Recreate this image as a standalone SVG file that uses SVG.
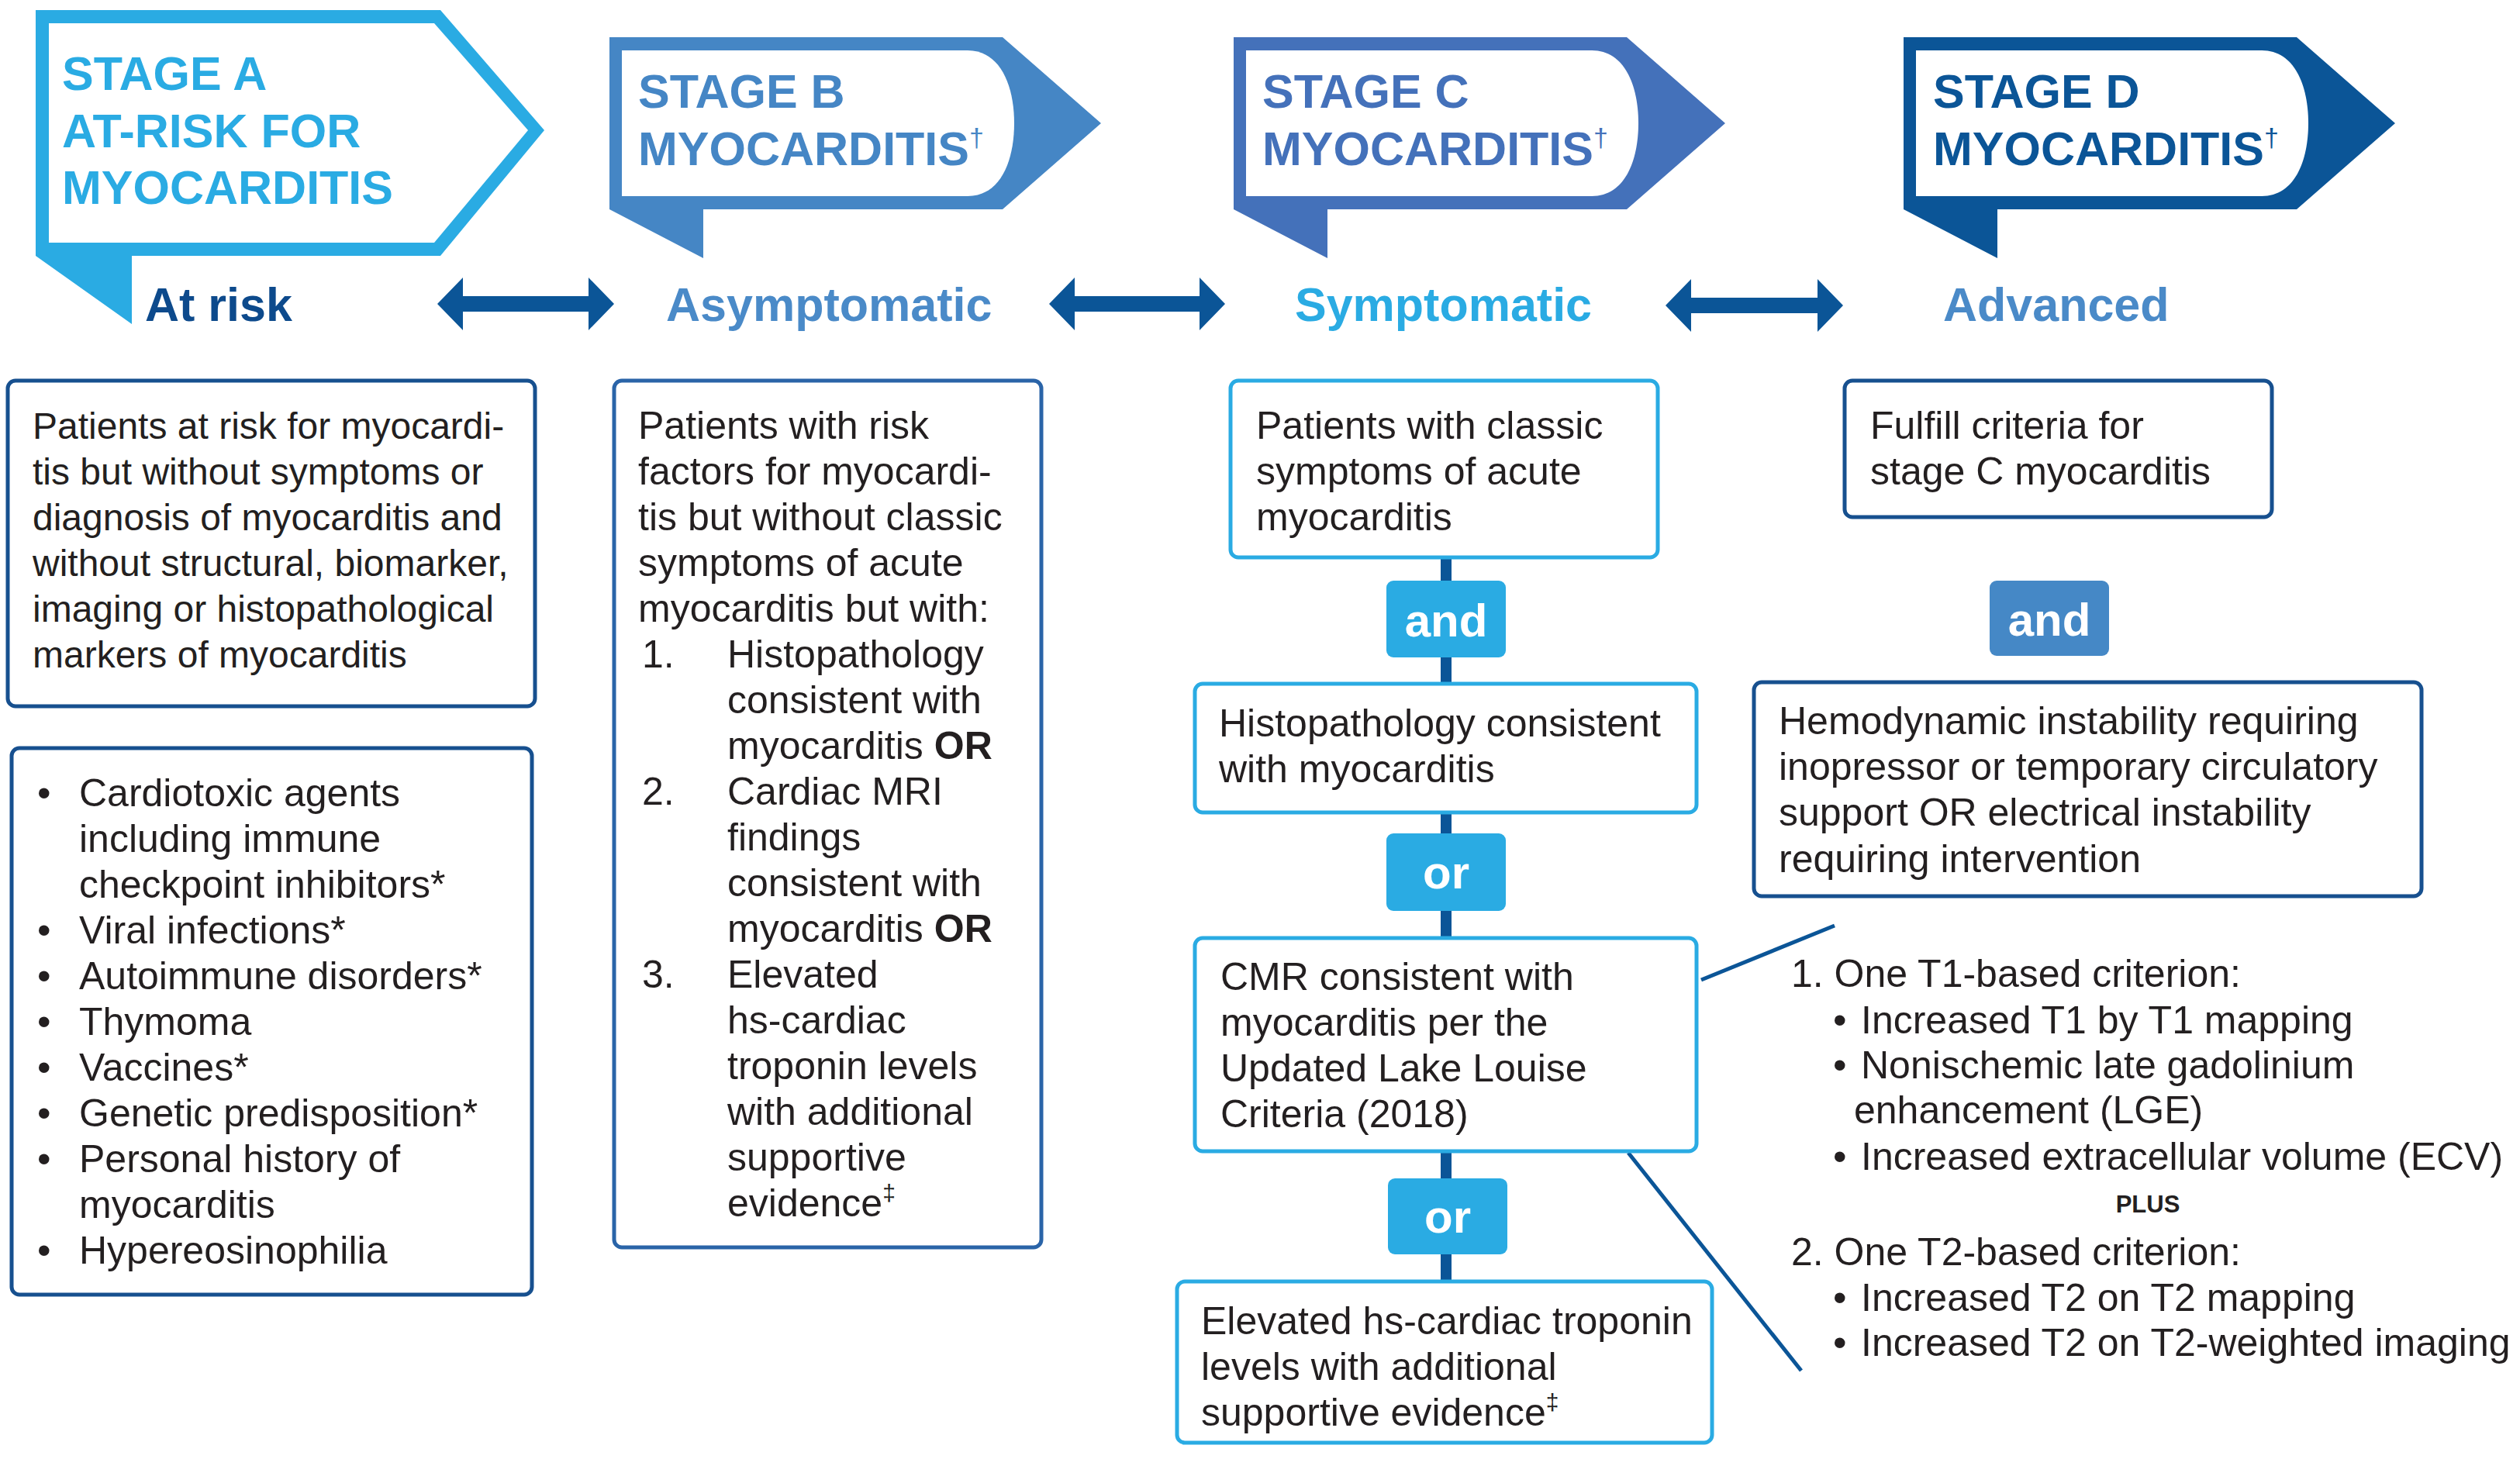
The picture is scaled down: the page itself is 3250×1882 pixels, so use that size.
<svg xmlns="http://www.w3.org/2000/svg" width="3250" height="1882" viewBox="0 0 3250 1882">
<style>
.title{font-family:"Liberation Sans",Arial,sans-serif;font-weight:bold;font-size:61px}
.lbl{font-family:"Liberation Sans",Arial,sans-serif;font-weight:bold;font-size:61px}
.body{font-family:"Liberation Sans",Arial,sans-serif;font-size:50px;fill:#231f20}
.body48{font-family:"Liberation Sans",Arial,sans-serif;font-size:48px;fill:#231f20}
.pill{font-family:"Liberation Sans",Arial,sans-serif;font-weight:bold;font-size:60px;fill:#ffffff}
.boxN{fill:#ffffff;stroke:#17508f;stroke-width:5}
.boxL{fill:#ffffff;stroke:#2aabe3;stroke-width:5}
.sup{font-size:34px;font-weight:normal}
</style>
<rect width="3250" height="1882" fill="#ffffff"/>
<g id="connectors">
  <g fill="#0b5597">
    <polygon points="564,392 597,358 597,382 759,382 759,358 792,392 759,426 759,402 597,402 597,426"/>
    <polygon points="1353,392 1386,358 1386,382 1547,382 1547,358 1580,392 1547,426 1547,402 1386,402 1386,426"/>
    <polygon points="2148,394 2181,360 2181,384 2344,384 2344,360 2377,394 2344,428 2344,404 2181,404 2181,428"/>
  </g>
  <line x1="1865" y1="715" x2="1865" y2="1656" stroke="#0b5597" stroke-width="14"/>
  <line x1="2194" y1="1264" x2="2366" y2="1194" stroke="#0b5597" stroke-width="5"/>
  <line x1="2100" y1="1487" x2="2323" y2="1768" stroke="#0b5597" stroke-width="5"/>
</g>
<g id="stageA">
  <polygon points="46,13 568,13 702,168 568,330 170,330 170,418 46,330" fill="#2aabe3"/>
  <polygon points="63,30 560,30 681,168 560,313 63,313" fill="#ffffff"/>
  <text class="title" fill="#2aabe3" x="80" y="116">STAGE A</text>
  <text class="title" fill="#2aabe3" x="80" y="190">AT-RISK FOR</text>
  <text class="title" fill="#2aabe3" x="80" y="263">MYOCARDITIS</text>
  <text class="lbl" fill="#0d4a8c" x="187" y="414">At risk</text>
</g>
<g id="stageB">
  <path d="M786,48 H1293 L1420,159 L1293,270 H907 V333 L786,270 Z" fill="#4586c5"/>
  <path d="M802,65 H1248 C1290,65 1308,110 1308,159 C1308,208 1290,253 1248,253 H802 Z" fill="#ffffff"/>
  <text class="title" fill="#4586c5" x="823" y="139">STAGE B</text>
  <text class="title" fill="#4586c5" x="823" y="213">MYOCARDITIS<tspan class="sup" dy="-24">†</tspan></text>
  <text class="lbl" fill="#4a8ac8" x="859" y="414">Asymptomatic</text>
</g>
<g id="stageC">
  <path d="M1591,48 H2098 L2225,159 L2098,270 H1712 V333 L1591,270 Z" fill="#4471ba"/>
  <path d="M1607,65 H2053 C2095,65 2113,110 2113,159 C2113,208 2095,253 2053,253 H1607 Z" fill="#ffffff"/>
  <text class="title" fill="#4471ba" x="1628" y="139">STAGE C</text>
  <text class="title" fill="#4471ba" x="1628" y="213">MYOCARDITIS<tspan class="sup" dy="-24">†</tspan></text>
  <text class="lbl" fill="#2aabe3" x="1670" y="414">Symptomatic</text>
</g>
<g id="stageD">
  <path d="M2455,48 H2962 L3089,159 L2962,270 H2576 V333 L2455,270 Z" fill="#0b5597"/>
  <path d="M2471,65 H2917 C2959,65 2977,110 2977,159 C2977,208 2959,253 2917,253 H2471 Z" fill="#ffffff"/>
  <text class="title" fill="#0b5597" x="2493" y="139">STAGE D</text>
  <text class="title" fill="#0b5597" x="2493" y="213">MYOCARDITIS<tspan class="sup" dy="-24">†</tspan></text>
  <text class="lbl" fill="#4a8ac8" x="2506" y="414">Advanced</text>
</g>
<g id="boxA1">
  <rect class="boxN" x="10" y="491" width="680" height="420" rx="10"/>
  <text class="body48" x="42" y="566">Patients at risk for myocardi-</text>
  <text class="body48" x="42" y="625">tis but without symptoms or</text>
  <text class="body48" x="42" y="684">diagnosis of myocarditis and</text>
  <text class="body48" x="42" y="743">without structural, biomarker,</text>
  <text class="body48" x="42" y="802">imaging or histopathological</text>
  <text class="body48" x="42" y="861">markers of myocarditis</text>
</g>
<g id="boxA2">
  <rect class="boxN" x="15" y="965" width="671" height="705" rx="10"/>
  <g class="body">
    <text x="48" y="1040">•</text><text x="102" y="1040">Cardiotoxic agents</text>
    <text x="102" y="1099">including immune</text>
    <text x="102" y="1158">checkpoint inhibitors*</text>
    <text x="48" y="1217">•</text><text x="102" y="1217">Viral infections*</text>
    <text x="48" y="1276">•</text><text x="102" y="1276">Autoimmune disorders*</text>
    <text x="48" y="1335">•</text><text x="102" y="1335">Thymoma</text>
    <text x="48" y="1394">•</text><text x="102" y="1394">Vaccines*</text>
    <text x="48" y="1453">•</text><text x="102" y="1453">Genetic predisposition*</text>
    <text x="48" y="1512">•</text><text x="102" y="1512">Personal history of</text>
    <text x="102" y="1571">myocarditis</text>
    <text x="48" y="1630">•</text><text x="102" y="1630">Hypereosinophilia</text>
  </g>
</g>
<g id="boxB">
  <rect class="boxN" x="792" y="491" width="551" height="1118" rx="10" style="stroke:#2a64a8"/>
  <g class="body">
    <text x="823" y="566">Patients with risk</text>
    <text x="823" y="625">factors for myocardi-</text>
    <text x="823" y="684">tis but without classic</text>
    <text x="823" y="743">symptoms of acute</text>
    <text x="823" y="802">myocarditis but with:</text>
    <text x="828" y="861">1.</text><text x="938" y="861">Histopathology</text>
    <text x="938" y="920">consistent with</text>
    <text x="938" y="979">myocarditis <tspan font-weight="bold">OR</tspan></text>
    <text x="828" y="1038">2.</text><text x="938" y="1038">Cardiac MRI</text>
    <text x="938" y="1097">findings</text>
    <text x="938" y="1156">consistent with</text>
    <text x="938" y="1215">myocarditis <tspan font-weight="bold">OR</tspan></text>
    <text x="828" y="1274">3.</text><text x="938" y="1274">Elevated</text>
    <text x="938" y="1333">hs-cardiac</text>
    <text x="938" y="1392">troponin levels</text>
    <text x="938" y="1451">with additional</text>
    <text x="938" y="1510">supportive</text>
    <text x="938" y="1569">evidence<tspan font-size="30" dy="-20">‡</tspan></text>
  </g>
</g>
<g id="boxC1">
  <rect class="boxL" x="1587" y="491" width="551" height="228" rx="10"/>
  <text class="body" x="1620" y="566">Patients with classic</text>
  <text class="body" x="1620" y="625">symptoms of acute</text>
  <text class="body" x="1620" y="684">myocarditis</text>
</g>
<g id="pillC1">
  <rect x="1788" y="749" width="154" height="99" rx="9" fill="#2aabe3"/>
  <text class="pill" x="1865" y="821" text-anchor="middle">and</text>
</g>
<g id="boxC2">
  <rect class="boxL" x="1541" y="882" width="647" height="166" rx="10"/>
  <text class="body" x="1572" y="950">Histopathology consistent</text>
  <text class="body" x="1572" y="1009">with myocarditis</text>
</g>
<g id="pillC2">
  <rect x="1788" y="1075" width="154" height="100" rx="9" fill="#2aabe3"/>
  <text class="pill" x="1865" y="1146" text-anchor="middle">or</text>
</g>
<g id="boxC3">
  <rect class="boxL" x="1541" y="1210" width="647" height="275" rx="10"/>
  <text class="body" x="1574" y="1277">CMR consistent with</text>
  <text class="body" x="1574" y="1336">myocarditis per the</text>
  <text class="body" x="1574" y="1395">Updated Lake Louise</text>
  <text class="body" x="1574" y="1454">Criteria (2018)</text>
</g>
<g id="pillC3">
  <rect x="1790" y="1520" width="154" height="98" rx="9" fill="#2aabe3"/>
  <text class="pill" x="1867" y="1590" text-anchor="middle">or</text>
</g>
<g id="boxC4">
  <rect class="boxL" x="1518" y="1653" width="690" height="208" rx="10"/>
  <text class="body" x="1549" y="1721">Elevated hs-cardiac troponin</text>
  <text class="body" x="1549" y="1780">levels with additional</text>
  <text class="body" x="1549" y="1839">supportive evidence<tspan font-size="30" dy="-20">‡</tspan></text>
</g>
<g id="boxD1">
  <rect class="boxN" x="2379" y="491" width="551" height="176" rx="10"/>
  <text class="body" x="2412" y="566">Fulfill criteria for</text>
  <text class="body" x="2412" y="625">stage C myocarditis</text>
</g>
<g id="pillD">
  <rect x="2566" y="749" width="154" height="97" rx="9" fill="#4588c6"/>
  <text class="pill" x="2643" y="820" text-anchor="middle">and</text>
</g>
<g id="boxD2">
  <rect class="boxN" x="2262" y="880" width="861" height="276" rx="10"/>
  <text class="body" x="2294" y="947">Hemodynamic instability requiring</text>
  <text class="body" x="2294" y="1006">inopressor or temporary circulatory</text>
  <text class="body" x="2294" y="1065">support OR electrical instability</text>
  <text class="body" x="2294" y="1125">requiring intervention</text>
</g>
<g id="criteria" class="body">
  <text x="2310" y="1273">1. One T1-based criterion:</text>
  <text x="2364" y="1333">•</text><text x="2400" y="1333">Increased T1 by T1 mapping</text>
  <text x="2364" y="1391">•</text><text x="2400" y="1391">Nonischemic late gadolinium</text>
  <text x="2391" y="1449">enhancement (LGE)</text>
  <text x="2364" y="1509">•</text><text x="2400" y="1509">Increased extracellular volume (ECV)</text>
  <text x="2770" y="1564" text-anchor="middle" font-weight="bold" font-size="31">PLUS</text>
  <text x="2310" y="1632">2. One T2-based criterion:</text>
  <text x="2364" y="1691">•</text><text x="2400" y="1691">Increased T2 on T2 mapping</text>
  <text x="2364" y="1749">•</text><text x="2400" y="1749">Increased T2 on T2-weighted imaging</text>
</g>
</svg>
